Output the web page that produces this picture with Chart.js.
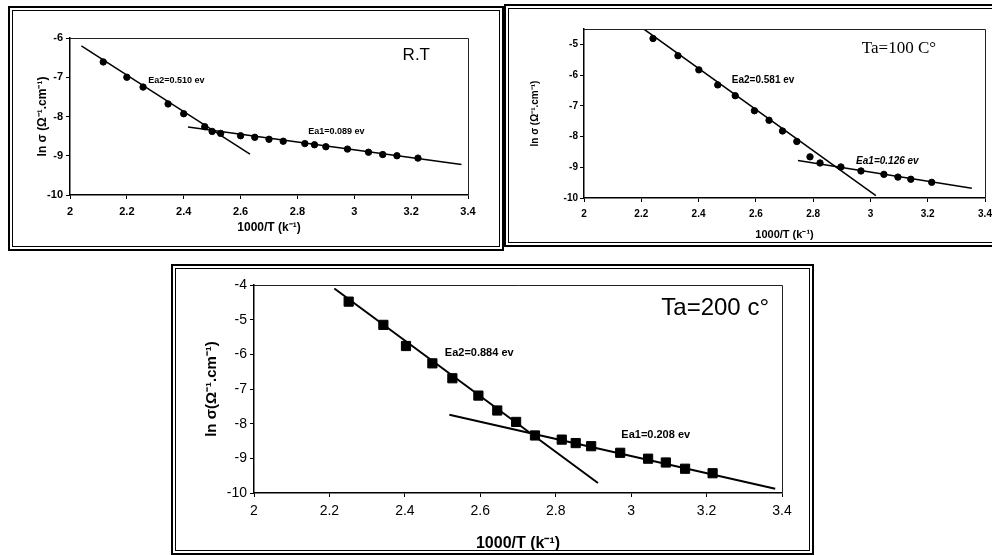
<!DOCTYPE html>
<html>
<head>
<meta charset="utf-8">
<script src="https://cdn.jsdelivr.net/npm/chart.js@4.4.0/dist/chart.umd.min.js"></script>
<style>
  body { margin: 0; background: #fff; width: 992px; height: 555px; overflow: hidden; position: relative; }
  .frame { position: absolute; border: 1px solid #000; outline: 2px solid #000; outline-offset: 2px; }
  canvas { position: absolute; }
</style>
</head>
<body>
<div class="frame" style="left:12px; top:10px; width:486px; height:235px;"></div>
<div class="frame" style="left:508px; top:8px; width:500px; height:233px;"></div>
<div class="frame" style="left:175px; top:268px; width:633px; height:281px;"></div>
<canvas id="chart_rt" width="486" height="233" style="left:12px; top:12px;"></canvas>
<canvas id="chart_100" width="492" height="233" style="left:510px; top:10px;"></canvas>
<canvas id="chart_200" width="630" height="283" style="left:178px; top:270px;"></canvas>
<script>
// R.T sample
const rtX = [2.117, 2.2, 2.257, 2.345, 2.40, 2.474, 2.50, 2.53, 2.60, 2.65, 2.70, 2.75, 2.826, 2.86, 2.90, 2.976, 3.05, 3.10, 3.15, 3.224];
const rtY = [-6.61, -7.0, -7.25, -7.68, -7.93, -8.26, -8.38, -8.43, -8.49, -8.53, -8.58, -8.63, -8.69, -8.72, -8.77, -8.83, -8.91, -8.97, -9.0, -9.06];
const rtFitHighX = [2.04, 2.633];
const rtFitHighY = [-6.2, -8.96];
const rtFitLowX = [2.415, 3.377];
const rtFitLowY = [-8.27, -9.22];

// Ta = 100 C
const t100X = [2.241, 2.328, 2.401, 2.467, 2.528, 2.595, 2.646, 2.693, 2.743, 2.789, 2.824, 2.897, 2.967, 3.047, 3.096, 3.141, 3.214];
const t100Y = [-4.81, -5.37, -5.83, -6.32, -6.67, -7.16, -7.47, -7.82, -8.16, -8.66, -8.86, -8.99, -9.12, -9.23, -9.32, -9.39, -9.49];
const t100FitHighX = [2.21, 3.019];
const t100FitHighY = [-4.51, -9.92];
const t100FitLowX = [2.747, 3.354];
const t100FitLowY = [-8.78, -9.68];

// Ta = 200 C
const t200X = [2.251, 2.343, 2.403, 2.473, 2.526, 2.595, 2.645, 2.695, 2.745, 2.816, 2.853, 2.894, 2.971, 3.045, 3.092, 3.143, 3.216];
const t200Y = [-4.48, -5.15, -5.76, -6.26, -6.69, -7.19, -7.62, -7.95, -8.34, -8.46, -8.56, -8.65, -8.84, -9.01, -9.12, -9.30, -9.43];
const t200FitHighX = [2.213, 2.912];
const t200FitHighY = [-4.10, -9.71];
const t200FitLowX = [2.518, 3.382];
const t200FitLowY = [-7.74, -9.88];

const xTicks = [2, 2.2, 2.4, 2.6, 2.8, 3, 3.2, 3.4];

function pts(xs, ys) {
    return xs.map((x, i) => ({x: x, y: ys[i]}));
}

// writes the little labels (Ea values, sample name) at data positions
function notesPlugin(notes) {
    return {
        id: 'notes',
        afterDatasetsDraw(chart) {
            const ctx = chart.ctx;
            const a = chart.chartArea;
            ctx.save();
            // plot frame, top and right sides
            ctx.strokeStyle = '#222';
            ctx.lineWidth = 1;
            ctx.beginPath();
            ctx.moveTo(a.left, a.top + 0.5);
            ctx.lineTo(a.right + 0.5, a.top + 0.5);
            ctx.lineTo(a.right + 0.5, a.bottom);
            ctx.stroke();
            ctx.fillStyle = '#000';
            ctx.textBaseline = 'middle';
            ctx.textAlign = 'left';
            notes.forEach(n => {
                ctx.font = n.font;
                ctx.fillText(n.text, chart.scales.x.getPixelForValue(n.x), chart.scales.y.getPixelForValue(n.y));
            });
            ctx.restore();
        }
    };
}

function makeChart(id, s) {
    const ctx = document.getElementById(id);
    return new Chart(ctx, {
        type: 'scatter',
        data: {
            datasets: [
                {
                    data: pts(s.x, s.y),
                    backgroundColor: '#000',
                    borderColor: '#000',
                    pointStyle: s.marker,
                    pointRadius: s.markerSize,
                    showLine: false
                },
                {
                    data: pts(s.fitHighX, s.fitHighY),
                    borderColor: '#000',
                    borderWidth: s.lineWidth,
                    pointRadius: 0,
                    showLine: true
                },
                {
                    data: pts(s.fitLowX, s.fitLowY),
                    borderColor: '#000',
                    borderWidth: s.lineWidth,
                    pointRadius: 0,
                    showLine: true
                }
            ]
        },
        options: {
            responsive: false,
            animation: false,
            devicePixelRatio: 1,
            layout: { padding: s.padding },
            plugins: { legend: { display: false }, tooltip: { enabled: false } },
            scales: {
                x: {
                    type: 'linear',
                    min: 2,
                    max: 3.4,
                    afterBuildTicks: (axis) => { axis.ticks = xTicks.map(v => ({value: v})); },
                    afterFit: (axis) => { axis.height = s.xAxisH; },
                    ticks: {
                        color: '#000',
                        padding: s.xPad,
                        maxRotation: 0,
                        font: { family: 'Liberation Sans', size: s.tickSize, weight: s.tickWeight },
                        callback: (v) => String(+v.toFixed(1))
                    },
                    grid: { drawOnChartArea: false, tickLength: 4, color: '#000' },
                    border: { color: '#000', width: 1.5 },
                    title: {
                        display: true,
                        text: '1000/T (k\u207B\u00B9)',
                        color: '#000',
                        padding: 0,
                        font: { family: 'Liberation Sans', size: s.xTitleSize, weight: 'bold', lineHeight: 1 }
                    }
                },
                y: {
                    min: -10,
                    max: s.yMax,
                    afterFit: (axis) => { axis.width = s.yAxisW; },
                    ticks: {
                        stepSize: 1,
                        includeBounds: false,
                        color: '#000',
                        padding: s.yPad,
                        font: { family: 'Liberation Sans', size: s.tickSize, weight: s.tickWeight },
                        callback: (v) => String(v)
                    },
                    grid: { drawOnChartArea: false, tickLength: 4, color: '#000' },
                    border: { color: '#000', width: 1.5 },
                    title: {
                        display: true,
                        text: s.yTitle,
                        color: '#000',
                        padding: 0,
                        font: { family: 'Liberation Sans', size: s.yTitleSize, weight: 'bold', lineHeight: 1 }
                    }
                }
            }
        },
        plugins: [notesPlugin(s.notes)]
    });
}

makeChart('chart_rt', {
    x: rtX, y: rtY, fitHighX: rtFitHighX, fitHighY: rtFitHighY, fitLowX: rtFitLowX, fitLowY: rtFitLowY,
    marker: 'circle', markerSize: 3.2, lineWidth: 1.5, yMax: -6,
    padding: {left: 25, top: 26, right: 30, bottom: 11}, yAxisW: 33, xAxisH: 39,
    tickSize: 11, tickWeight: 'bold', xPad: 6, yPad: 3, xTitleSize: 12, yTitleSize: 12,
    yTitle: 'ln \u03C3 (\u03A9\u207B\u00B9.cm\u207B\u00B9)',
    notes: [
        {text: 'Ea2=0.510 ev', x: 2.275, y: -7.08, font: 'bold 9px "Liberation Sans"'},
        {text: 'Ea1=0.089 ev', x: 2.838, y: -8.38, font: 'bold 9px "Liberation Sans"'},
        {text: 'R.T', x: 3.17, y: -6.43, font: '17px "Liberation Sans"'}
    ]
});

makeChart('chart_100', {
    x: t100X, y: t100Y, fitHighX: t100FitHighX, fitHighY: t100FitHighY, fitLowX: t100FitLowX, fitLowY: t100FitLowY,
    marker: 'circle', markerSize: 3.2, lineWidth: 1.5, yMax: -4.5,
    padding: {left: 20, top: 19, right: 17, bottom: 3}, yAxisW: 54, xAxisH: 42,
    tickSize: 10, tickWeight: 'bold', xPad: 6, yPad: 2, xTitleSize: 11, yTitleSize: 10,
    yTitle: 'ln \u03C3 (\u03A9\u207B\u00B9.cm\u207B\u00B9)',
    notes: [
        {text: 'Ea2=0.581 ev', x: 2.516, y: -6.18, font: 'bold 10px "Liberation Sans"'},
        {text: 'Ea1=0.126 ev', x: 2.95, y: -8.8, font: 'bold italic 10px "Liberation Sans"'},
        {text: 'Ta=100 C\u00B0', x: 2.97, y: -5.13, font: '17px "Liberation Serif"'}
    ]
});

makeChart('chart_200', {
    x: t200X, y: t200Y, fitHighX: t200FitHighX, fitHighY: t200FitHighY, fitLowX: t200FitLowX, fitLowY: t200FitLowY,
    marker: 'rect', markerSize: 6.5, lineWidth: 2, yMax: -4,
    padding: {left: 26, top: 15, right: 26, bottom: 1}, yAxisW: 50, xAxisH: 59,
    tickSize: 14, tickWeight: 'normal', xPad: 6, yPad: 3, xTitleSize: 16, yTitleSize: 15,
    yTitle: 'ln \u03C3(\u03A9\u207B\u00B9.cm\u207B\u00B9)',
    notes: [
        {text: 'Ea2=0.884 ev', x: 2.506, y: -5.97, font: 'bold 11px "Liberation Sans"'},
        {text: 'Ea1=0.208 ev', x: 2.974, y: -8.32, font: 'bold 11px "Liberation Sans"'},
        {text: 'Ta=200 c\u00B0', x: 3.08, y: -4.67, font: '24px "Liberation Sans"'}
    ]
});
</script>
</body>
</html>
